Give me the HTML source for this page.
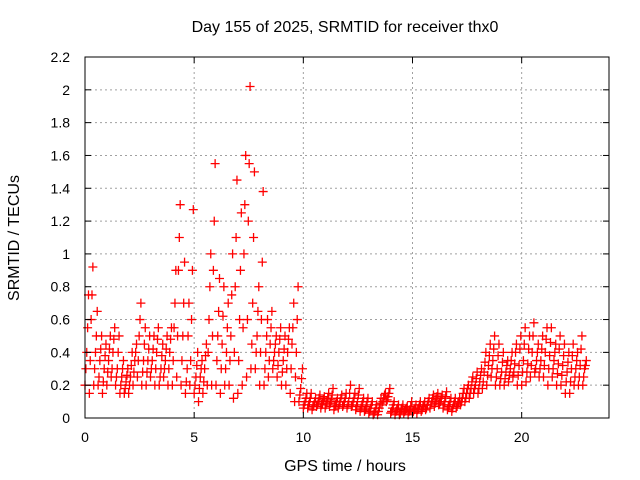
<!DOCTYPE html>
<html><head><meta charset="utf-8"><style>
body{margin:0;background:#fff;}
svg{display:block;font-family:"Liberation Sans",sans-serif;font-size:14px;}
</style></head><body>
<svg id="chart" width="640" height="480">
<text x="345" y="32" text-anchor="middle" font-size="16">Day 155 of 2025, SRMTID for receiver thx0</text>
<text x="345" y="471" text-anchor="middle" font-size="16">GPS time / hours</text>
<text transform="translate(19,238) rotate(-90)" text-anchor="middle" font-size="16">SRMTID / TECUs</text>
<g id="grid"></g><g id="marks"></g><g id="axes"></g>
</svg>
<script>
const xTicks=[0,5,10,15,20];
const yTicks=[0,0.2,0.4,0.6,0.8,1,1.2,1.4,1.6,1.8,2,2.2];
const yTickLabels=["0","0.2","0.4","0.6","0.8","1","1.2","1.4","1.6","1.8","2","2.2"];
const times=[];for(let i=0;i<115;i++)times.push(+(i*0.2).toFixed(1));
const hiVals=[0.75,0.92,0.65,0.5,0.45,0.5,0.55,0.5,0.35,0.3,0.4,0.45,0.7,0.55,0.5,0.5,0.55,0.45,0.5,0.55,0.9,1.3,0.95,0.7,1.27,0.4,0.35,0.45,1.0,1.55,0.85,0.8,0.7,1.0,1.45,1.25,1.6,2.02,1.5,0.8,1.38,0.6,0.65,0.5,0.55,0.5,0.55,0.7,0.8,0.3,0.15,0.15,0.12,0.14,0.13,0.15,0.18,0.12,0.14,0.15,0.2,0.15,0.18,0.12,0.12,0.1,0.08,0.12,0.15,0.18,0.1,0.08,0.08,0.07,0.1,0.08,0.1,0.1,0.12,0.14,0.15,0.14,0.16,0.12,0.12,0.12,0.18,0.2,0.25,0.28,0.3,0.4,0.45,0.5,0.45,0.4,0.35,0.4,0.45,0.5,0.55,0.5,0.58,0.45,0.5,0.55,0.55,0.45,0.5,0.45,0.4,0.45,0.4,0.5,0.35];
const q3Vals=[0.55,0.75,0.5,0.42,0.38,0.42,0.48,0.4,0.3,0.26,0.32,0.4,0.6,0.45,0.42,0.42,0.48,0.38,0.42,0.48,0.7,1.1,0.7,0.5,0.9,0.32,0.3,0.38,0.8,1.2,0.65,0.62,0.55,0.75,1.1,0.9,1.3,1.55,1.1,0.65,0.95,0.5,0.55,0.45,0.48,0.42,0.48,0.55,0.6,0.24,0.12,0.12,0.1,0.12,0.11,0.12,0.14,0.1,0.12,0.12,0.15,0.12,0.14,0.1,0.1,0.08,0.06,0.09,0.14,0.15,0.08,0.06,0.06,0.06,0.07,0.06,0.08,0.08,0.1,0.12,0.13,0.12,0.13,0.1,0.1,0.1,0.15,0.18,0.22,0.24,0.26,0.34,0.38,0.42,0.38,0.34,0.32,0.35,0.4,0.42,0.45,0.42,0.5,0.4,0.42,0.48,0.46,0.4,0.42,0.38,0.34,0.38,0.35,0.42,0.32];
const midVals=[0.4,0.6,0.4,0.35,0.3,0.35,0.4,0.3,0.25,0.22,0.25,0.35,0.5,0.35,0.35,0.35,0.4,0.3,0.35,0.4,0.55,0.9,0.5,0.3,0.6,0.25,0.25,0.3,0.6,0.9,0.5,0.45,0.4,0.5,0.8,0.6,1.0,1.2,0.7,0.5,0.6,0.4,0.45,0.4,0.4,0.35,0.4,0.45,0.4,0.18,0.1,0.1,0.08,0.1,0.09,0.1,0.11,0.08,0.1,0.1,0.1,0.1,0.1,0.08,0.07,0.06,0.04,0.06,0.12,0.13,0.06,0.05,0.05,0.05,0.05,0.05,0.06,0.07,0.08,0.1,0.11,0.1,0.1,0.08,0.08,0.09,0.12,0.15,0.18,0.2,0.22,0.28,0.32,0.35,0.3,0.28,0.28,0.3,0.33,0.32,0.35,0.33,0.4,0.35,0.35,0.4,0.38,0.35,0.33,0.32,0.28,0.3,0.3,0.32,0.3];
const q1Vals=[0.3,0.35,0.3,0.25,0.22,0.28,0.3,0.25,0.2,0.18,0.2,0.28,0.35,0.28,0.28,0.3,0.3,0.25,0.3,0.3,0.35,0.5,0.35,0.22,0.35,0.2,0.18,0.22,0.4,0.5,0.35,0.3,0.3,0.35,0.4,0.35,0.55,0.6,0.45,0.4,0.4,0.3,0.35,0.35,0.32,0.28,0.3,0.3,0.25,0.14,0.08,0.08,0.07,0.08,0.08,0.08,0.09,0.07,0.08,0.08,0.08,0.08,0.07,0.06,0.05,0.04,0.03,0.04,0.1,0.11,0.04,0.04,0.03,0.04,0.04,0.04,0.05,0.05,0.06,0.08,0.09,0.09,0.08,0.07,0.06,0.07,0.1,0.12,0.15,0.18,0.18,0.22,0.26,0.3,0.25,0.24,0.24,0.26,0.28,0.26,0.28,0.28,0.32,0.3,0.3,0.32,0.3,0.3,0.27,0.26,0.22,0.22,0.25,0.25,0.25];
const loVals=[0.2,0.15,0.2,0.2,0.15,0.2,0.25,0.2,0.15,0.15,0.15,0.2,0.25,0.2,0.2,0.25,0.2,0.2,0.25,0.2,0.2,0.25,0.2,0.15,0.2,0.15,0.1,0.15,0.2,0.2,0.2,0.15,0.2,0.2,0.12,0.15,0.2,0.25,0.3,0.3,0.2,0.2,0.25,0.3,0.25,0.2,0.2,0.15,0.1,0.1,0.06,0.06,0.05,0.07,0.06,0.06,0.07,0.05,0.06,0.07,0.06,0.07,0.05,0.04,0.04,0.03,0.02,0.02,0.08,0.1,0.03,0.02,0.02,0.03,0.02,0.03,0.03,0.04,0.05,0.06,0.07,0.08,0.06,0.05,0.04,0.06,0.08,0.1,0.12,0.15,0.15,0.18,0.2,0.25,0.2,0.2,0.2,0.22,0.25,0.2,0.2,0.22,0.25,0.28,0.25,0.25,0.2,0.25,0.2,0.2,0.15,0.15,0.2,0.2,0.2];
const L=85,R=609,T=57,B=418;
const xs=v=>L+v/24*(R-L);
const ys=v=>B-v/2.2*(B-T);
const NS="http://www.w3.org/2000/svg";
function mk(tag,attrs,parent){const e=document.createElementNS(NS,tag);for(const k in attrs)e.setAttribute(k,attrs[k]);parent.appendChild(e);return e;}
const grid=document.getElementById('grid'),marks=document.getElementById('marks'),axes=document.getElementById('axes');
xTicks.forEach(t=>{const x=xs(t);
 if(t>0){const g=mk('line',{x1:x,y1:T,x2:x,y2:B,stroke:'#a0a0a0','stroke-dasharray':'2,3'},grid);
 
 }
 mk('line',{x1:x,y1:B,x2:x,y2:B-6,stroke:'#000'},axes);mk('line',{x1:x,y1:T,x2:x,y2:T+6,stroke:'#000'},axes);
 const tx=mk('text',{x:x,y:B+24,'text-anchor':'middle'},axes);tx.textContent=t;
 
 });
yTicks.forEach((t,i)=>{const y=ys(t);
 if(i>0&&i<yTicks.length-1){const g=mk('line',{x1:L,y1:y,x2:R,y2:y,stroke:'#a0a0a0','stroke-dasharray':'2,3'},grid);
 
 }
 mk('line',{x1:L,y1:y,x2:L+6,y2:y,stroke:'#000'},axes);mk('line',{x1:R,y1:y,x2:R-6,y2:y,stroke:'#000'},axes);
 const tx=mk('text',{x:L-15,y:y+5,'text-anchor':'end'},axes);tx.textContent=yTickLabels[i];
 
 });
const box=mk('rect',{x:L,y:T,width:R-L,height:B-T,fill:'none',stroke:'#000'},axes);


function plus(t,v){const x=xs(t),y=ys(v);
 const p=mk('path',{d:`M${x-4.5},${y}h9M${x},${y-4.5}v9`,stroke:'#ff0000','stroke-width':1.3,fill:'none'},marks);
 
 }
times.forEach((t,i)=>{plus(t,loVals[i]);plus(t+0.04,q1Vals[i]);plus(t+0.08,midVals[i]);plus(t+0.12,q3Vals[i]);plus(t+0.16,hiVals[i]);});
</script>
</body></html>
